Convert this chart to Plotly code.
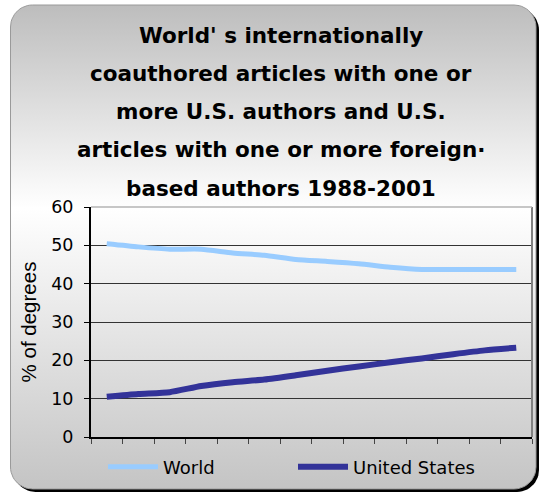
import numpy as np
import plotly.graph_objects as go

# Share of articles (%), 1988-2001
years = list(range(1988, 2002))
world = [50.4, 49.6, 49.0, 49.0, 48.0, 47.4, 46.3, 45.8, 45.2, 44.3, 43.7, 43.7, 43.7, 43.7]
united_states = [10.5, 11.2, 11.7, 13.3, 14.3, 15.0, 16.1, 17.3, 18.4, 19.5, 20.5, 21.6, 22.6, 23.3]

series_names = ["World", "United States"]
series_colors = ["#99ccff", "#333399"]

title_lines = [
    "World' s internationally",
    "coauthored articles with one or",
    "more U.S. authors and U.S.",
    "articles with one or more foreign\u00b7",
    "based authors 1988-2001",
]
y_title = "% of degrees"

FONT = "DejaVu Sans, Verdana, sans-serif"
ARIAL = "Liberation Sans, Arial, sans-serif"
W, H = 540, 493


def rounded_rect(x0, y0, x1, y1, r, n=14):
    """Closed outline of a rounded rectangle in pixel coordinates (y down)."""
    xs, ys = [], []
    corners = [
        (x1 - r, y0 + r, -90, 0),
        (x1 - r, y1 - r, 0, 90),
        (x0 + r, y1 - r, 90, 180),
        (x0 + r, y0 + r, 180, 270),
    ]
    for cx, cy, a0, a1 in corners:
        t = np.radians(np.linspace(a0, a1, n))
        xs += list(cx + r * np.cos(t))
        ys += list(cy + r * np.sin(t))
    xs.append(xs[0])
    ys.append(ys[0])
    return xs, ys


fig = go.Figure()

# Chart panel: drop shadow, then the gradient-filled rounded box
sx, sy = rounded_rect(13.5, 8, 539, 492, 22)
fig.add_trace(go.Scatter(
    x=sx, y=sy, mode="lines", fill="toself", fillcolor="#000000",
    line=dict(width=0, color="#000000"), hoverinfo="skip", showlegend=False,
    xaxis="x", yaxis="y",
))
bx, by = rounded_rect(10.5, 5, 536, 489, 22)
fig.add_trace(go.Scatter(
    x=bx, y=by, mode="lines", fill="toself",
    fillgradient=dict(
        type="vertical", start=5, stop=489,
        colorscale=[[0, "#bdbdbd"], [0.42, "#ffffff"], [1, "#c4c4c4"]],
    ),
    line=dict(width=1, color="#9a9a9a"), hoverinfo="skip", showlegend=False,
    xaxis="x", yaxis="y",
))

# Data series
for name, vals, color, width in zip(series_names, [world, united_states], series_colors, [5, 6]):
    fig.add_trace(go.Scatter(
        x=years, y=vals, name=name, mode="lines",
        line=dict(color=color, width=width, shape="spline", smoothing=0.6),
        xaxis="x2", yaxis="y2",
    ))

# Title, one annotation per line for the wide line spacing
title_y0, title_step = 35, 38.3
annotations = []
for i, line in enumerate(title_lines):
    annotations.append(dict(
        text=f"<b>{line}</b>", x=281, y=title_y0 + i * title_step,
        xref="x", yref="y", xanchor="center", yanchor="middle",
        showarrow=False, font=dict(family=FONT, size=21.5, color="#000000"),
    ))

shapes = [
    dict(type="line", xref="x2 domain", yref="y2 domain", x0=1, x1=1, y0=0, y1=1,
         line=dict(color="#808080", width=2), layer="above"),
    dict(type="line", xref="x2 domain", yref="y2 domain", x0=0, x1=1, y0=1, y1=1,
         line=dict(color="#b4b4b4", width=1.5), layer="above"),
]

category_edges = [y - 0.5 for y in years] + [years[-1] + 0.5]

fig.update_layout(
    width=W, height=H,
    margin=dict(l=0, r=0, t=0, b=0, autoexpand=False),
    paper_bgcolor="#ffffff", plot_bgcolor="rgba(0,0,0,0)",
    font=dict(family=FONT, size=17, color="#000000"),
    xaxis=dict(domain=[0, 1], range=[0, W], visible=False, fixedrange=True),
    yaxis=dict(domain=[0, 1], range=[H, 0], visible=False, fixedrange=True),
    xaxis2=dict(
        domain=[91 / W, 532 / W], anchor="y2",
        range=[category_edges[0], category_edges[-1]],
        tickvals=category_edges, ticks="outside", ticklen=5, tickwidth=1,
        tickcolor="#444444", showticklabels=False,
        showline=True, linecolor="#000000", linewidth=2,
        showgrid=False, zeroline=False,
    ),
    yaxis2=dict(
        domain=[(H - 437) / H, (H - 207) / H], anchor="x2",
        range=[0, 60], dtick=10, ticks="outside", ticklen=5, tickwidth=1,
        tickcolor="#000000", tickfont=dict(family=FONT, size=17.5),
        ticklabelstandoff=7,
        showline=True, linecolor="#000000", linewidth=2,
        showgrid=True, gridcolor="#333333", gridwidth=1, zeroline=False,
        title=dict(text=y_title, font=dict(family=ARIAL, size=20.5), standoff=9),
    ),
    legend=dict(
        orientation="h", x=103 / W, y=(H - 467) / H,
        xanchor="left", yanchor="middle",
        bgcolor="rgba(0,0,0,0)", font=dict(family=FONT, size=18),
        itemwidth=50,
        entrywidth=125, entrywidthmode="pixels",
    ),
    annotations=annotations,
    shapes=shapes,
    showlegend=True,
)

fig.write_html("out.html")
